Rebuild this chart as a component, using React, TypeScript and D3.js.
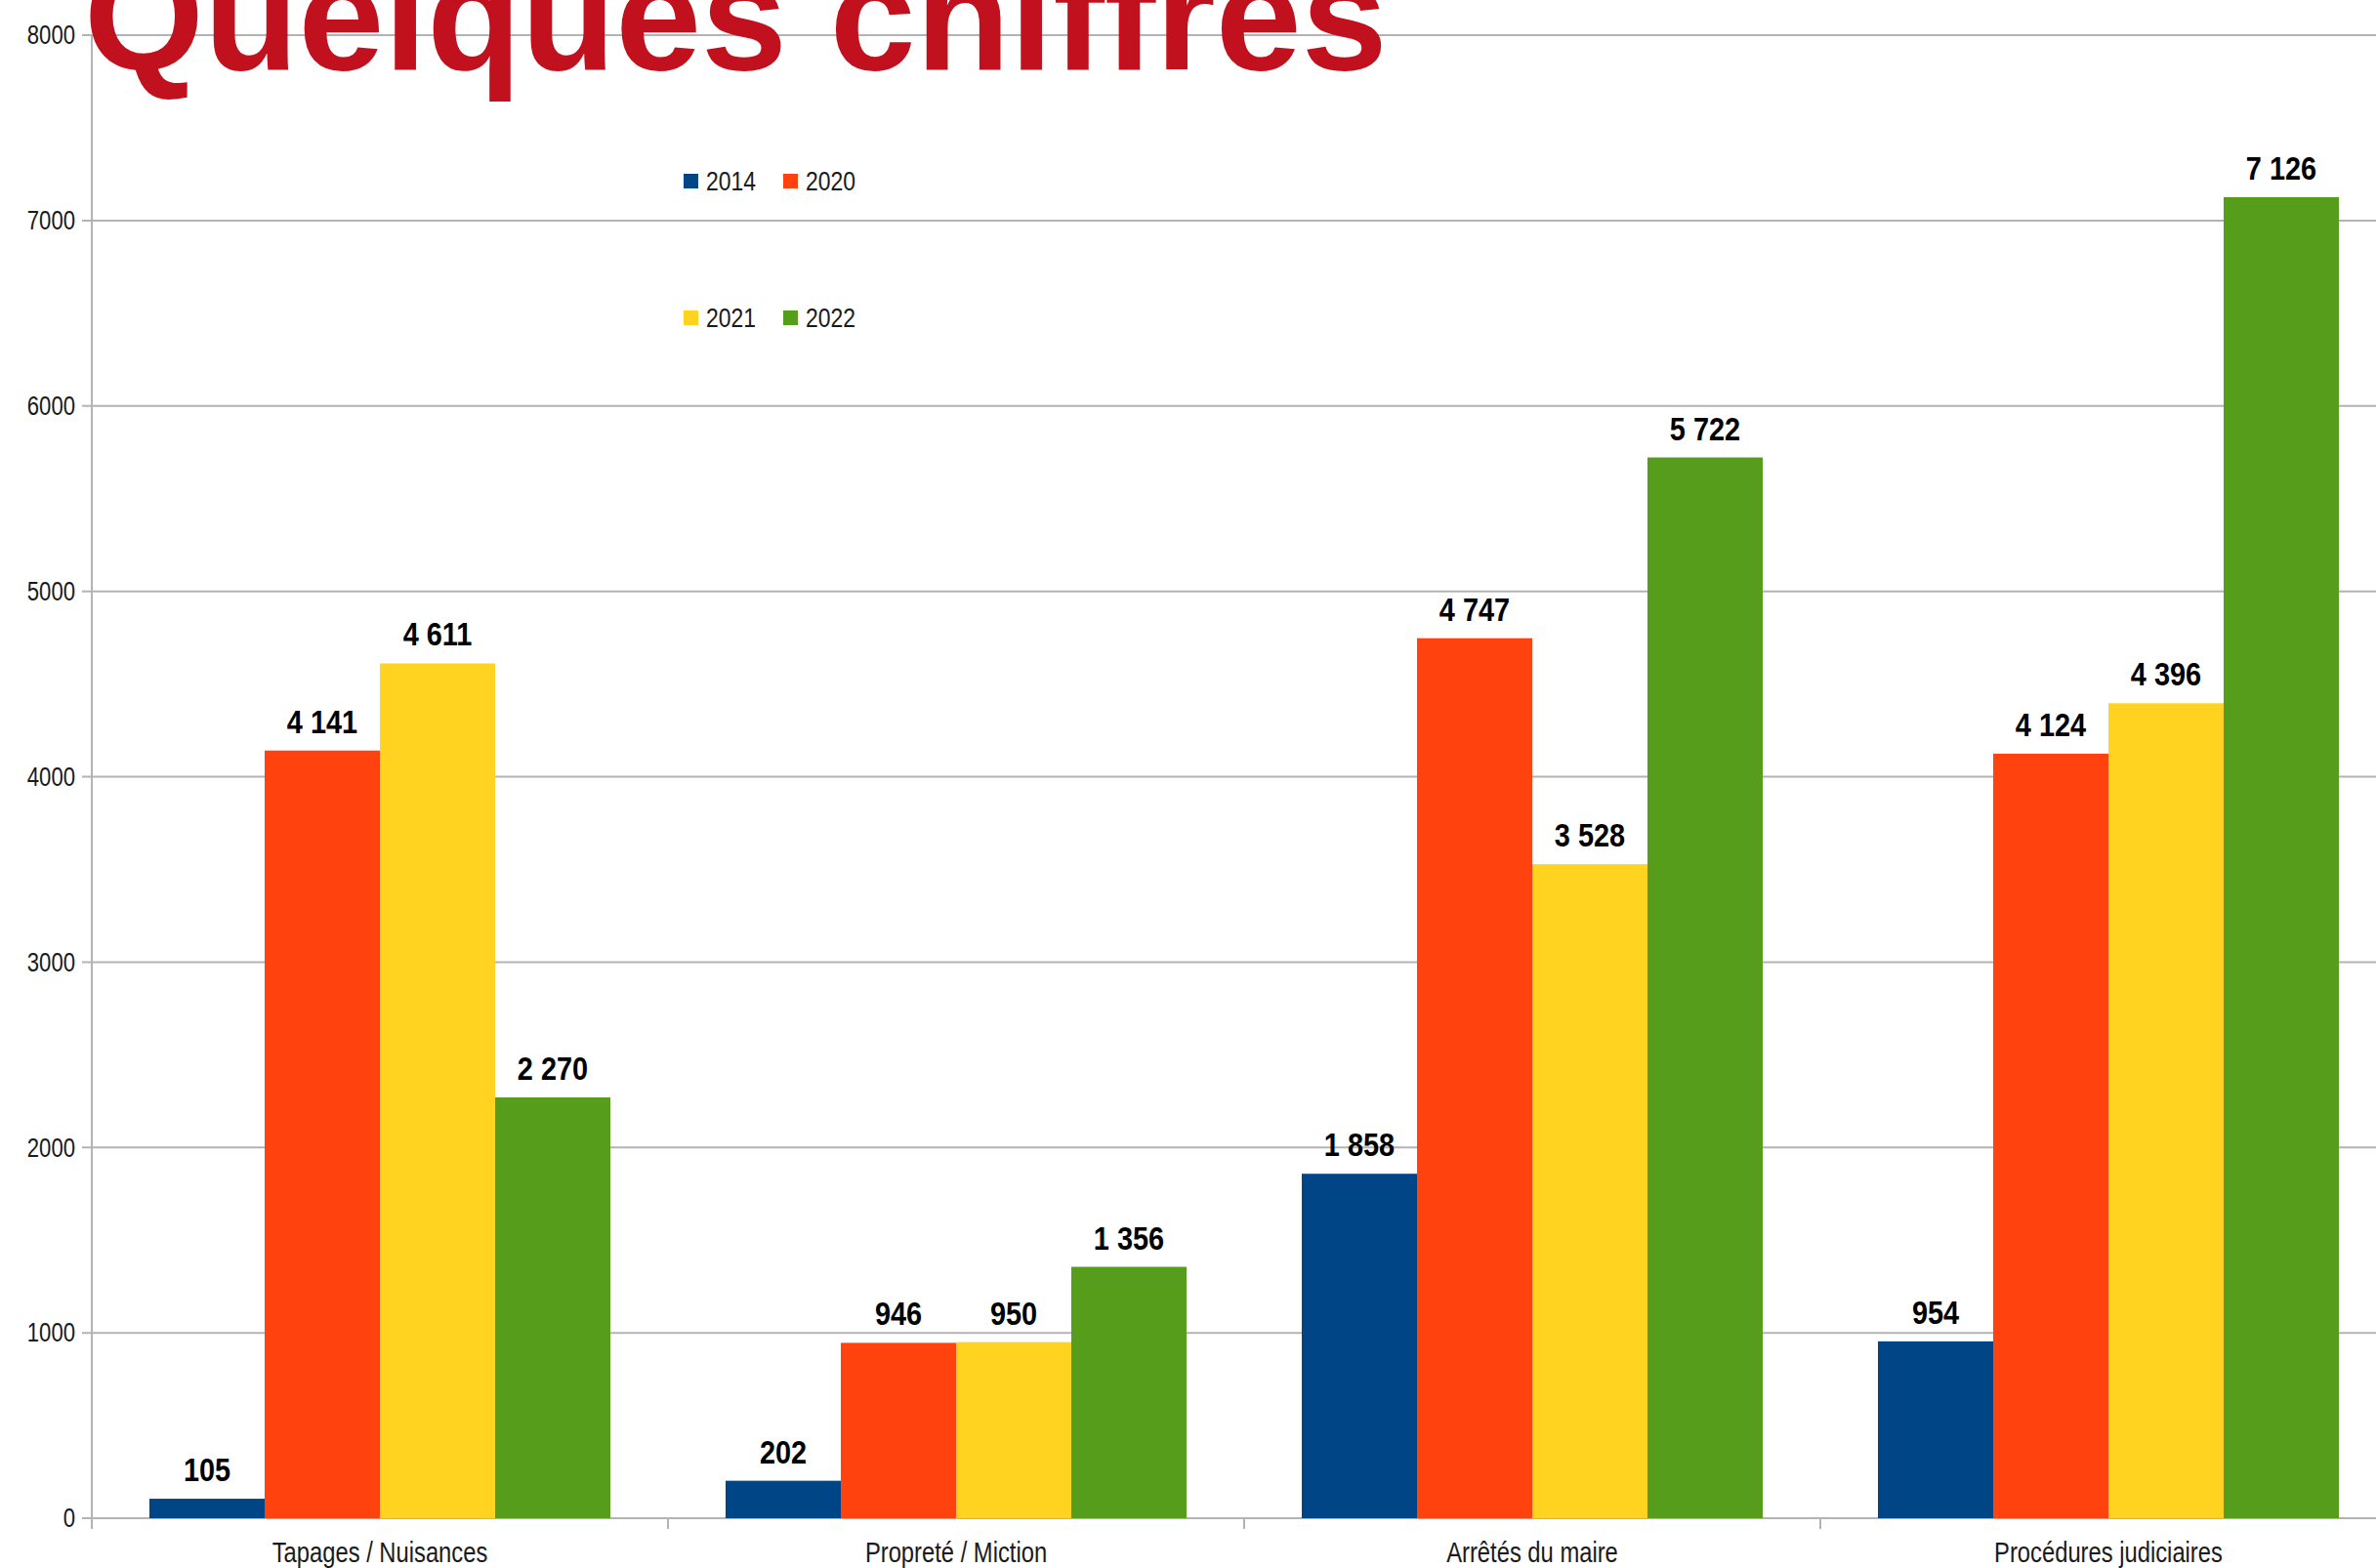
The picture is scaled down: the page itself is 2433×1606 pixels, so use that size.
import React from "react";
import * as d3 from "d3";

const categories = ["Tapages / Nuisances", "Propreté / Miction", "Arrêtés du maire", "Procédures judiciaires"];
const seriesNames = ["2014", "2020", "2021", "2022"];
const values2014 = [105, 202, 1858, 954];
const values2020 = [4141, 946, 4747, 4124];
const values2021 = [4611, 950, 3528, 4396];
const values2022 = [2270, 1356, 5722, 7126];
const yTicks = [0, 1000, 2000, 3000, 4000, 5000, 6000, 7000, 8000];
const colors = ["#004586", "#ff420e", "#ffd320", "#579d1c"];

const W = 2433;
const H = 1606;

export default function App() {
  const series = [values2014, values2020, values2021, values2022];
  const left = 94;
  const catW = 590;
  const x0 = d3.scaleBand<string>().domain(categories).range([left, left + catW * categories.length]).paddingInner(0).paddingOuter(0);
  const x1 = d3.scaleBand<string>().domain(seriesNames).range([0, x0.bandwidth()]).paddingInner(0).paddingOuter(0.5);
  const y = d3.scaleLinear().domain([0, 8000]).range([1555, 36]);
  const fmt = d3.formatLocale({ thousands: " ", grouping: [3], decimal: ",", currency: ["", ""] }).format(",d");
  const grid = "#b3b3b3";
  const font = "'Liberation Sans', Arial, sans-serif";
  const sx = 0.82;

  return (
    <svg width={W} height={H} style={{ position: "fixed", left: 0, top: 0, display: "block", background: "#fff" }} fontFamily={font}>
      <rect x={0} y={0} width={W} height={H} fill="#fff" />
      {yTicks.map((t) => (
        <line key={"g" + t} x1={84} x2={W} y1={y(t)} y2={y(t)} stroke={grid} strokeWidth={2} />
      ))}
      <line x1={left} x2={left} y1={y(8000)} y2={y(0) + 11} stroke={grid} strokeWidth={2} />
      {categories.map((c, i) => (
        <line key={"xt" + i} x1={x0(c)!} x2={x0(c)!} y1={y(0)} y2={y(0) + 11} stroke={grid} strokeWidth={2} />
      ))}
      {yTicks.map((t) => (
        <text key={"yl" + t} transform={`translate(77,${y(t)}) scale(${sx},1)`} textAnchor="end" dominantBaseline="central" fontSize={27} fill="#1a1a1a">
          {String(t)}
        </text>
      ))}
      {categories.map((c, ci) =>
        seriesNames.map((s, si) => {
          const v = series[si][ci];
          const bx = x0(c)! + x1(s)!;
          return (
            <rect key={c + s} x={bx} y={y(v)} width={x1.bandwidth()} height={y(0) - y(v)} fill={colors[si]} />
          );
        })
      )}
      {categories.map((c, ci) =>
        seriesNames.map((s, si) => {
          const v = series[si][ci];
          const cx = x0(c)! + x1(s)! + x1.bandwidth() / 2;
          return (
            <text key={"v" + c + s} transform={`translate(${cx},${y(v) - 18}) scale(0.85,1)`} textAnchor="middle" fontSize={34} fontWeight="bold" fill="#000">
              {fmt(v)}
            </text>
          );
        })
      )}
      {categories.map((c) => (
        <text key={"cl" + c} transform={`translate(${x0(c)! + x0.bandwidth() / 2},1600) scale(${sx},1)`} textAnchor="middle" fontSize={29} fill="#1a1a1a">
          {c}
        </text>
      ))}
      {seriesNames.map((s, i) => {
        const col = i % 2;
        const row = Math.floor(i / 2);
        const lx = 700 + col * 102;
        const ly = 178 + row * 140;
        return (
          <g key={"lg" + s}>
            <rect x={lx} y={ly} width={15} height={15} fill={colors[i]} />
            <text transform={`translate(${lx + 23},${ly + 17}) scale(${sx},1)`} fontSize={28} fill="#1a1a1a">
              {s}
            </text>
          </g>
        );
      })}
      <text x={86} y={71} fontSize={158} fontWeight="bold" fill="#c1111e" fontFamily={font}>
        Quelques chiffres
      </text>
    </svg>
  );
}
